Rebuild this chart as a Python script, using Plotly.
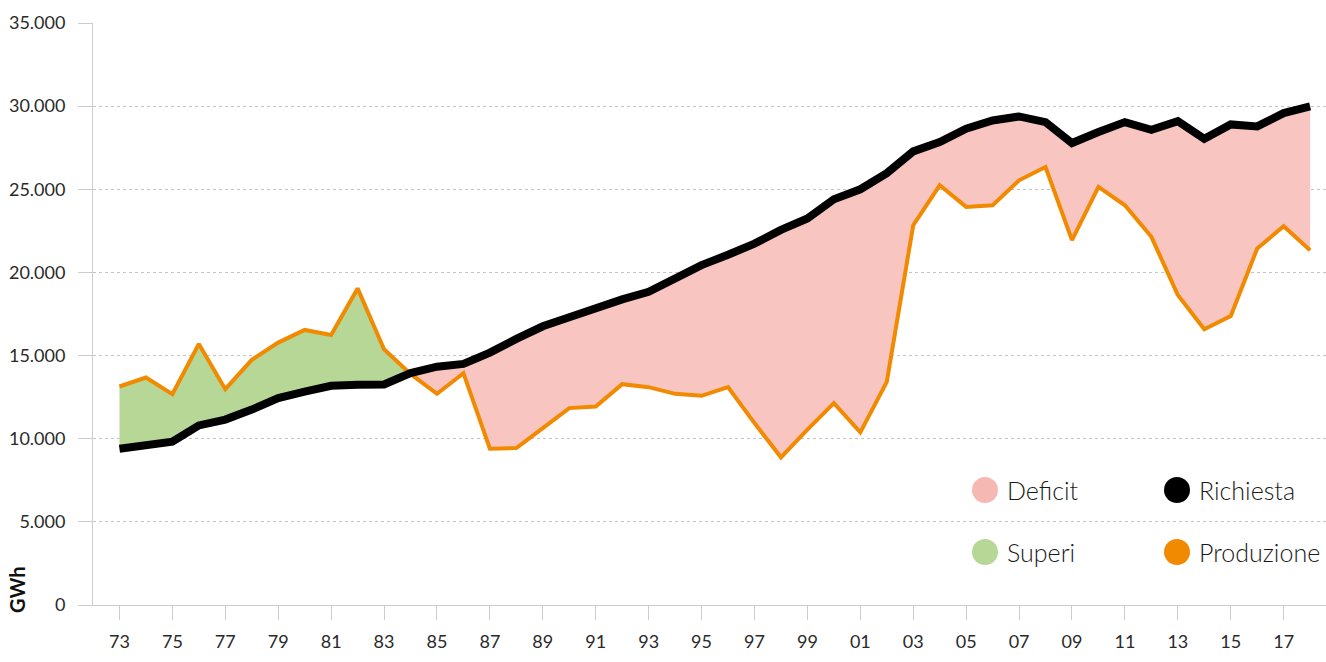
import numpy as np
import plotly.graph_objects as go

years = list(range(1973, 2019))
richiesta = [9400, 9640, 9820, 10800, 11150, 11750, 12440, 12830, 13180, 13240,
             13260, 13950, 14330, 14500, 15180, 16000, 16760, 17300, 17880, 18380,
             18830, 19620, 20440, 21060, 21730, 22560, 23250, 24400, 25000, 25970,
             27280, 27840, 28640, 29140, 29380, 29040, 27780, 28440, 29040, 28580,
             29100, 28040, 28900, 28780, 29580, 29980]
produzione = [13140, 13680, 12680, 15700, 12980, 14740, 15780, 16540, 16240, 19040,
              15380, 13900, 12700, 13940, 9400, 9440, 10640, 11840, 11940, 13280,
              13100, 12700, 12580, 13100, 10940, 8880, 10540, 12140, 10380, 13420,
              22840, 25240, 23940, 24040, 25540, 26340, 21940, 25140, 24040, 22140,
              18640, 16580, 17380, 21440, 22780, 21340]
tick_years = list(range(1973, 2018, 2))
tick_labels = [f"{y % 100:02d}" for y in tick_years]
legend_items = [("Deficit", "#F6B8B3"), ("Superi", "#B6D795"),
                ("Richiesta", "#000000"), ("Produzione", "#F18A00")]

# dense x including crossing points
r = np.array(richiesta, float)
p = np.array(produzione, float)
yrs = np.array(years, float)
xs = []
for i in range(len(yrs)):
    xs.append(yrs[i])
    if i < len(yrs) - 1:
        d0 = p[i] - r[i]
        d1 = p[i + 1] - r[i + 1]
        if d0 * d1 < 0:
            t = d0 / (d0 - d1)
            xs.append(yrs[i] + t * (yrs[i + 1] - yrs[i]))
xs = np.array(xs)
rd = np.interp(xs, yrs, r)
pd_ = np.interp(xs, yrs, p)
top = np.maximum(rd, pd_)

PINK = "#F8C5C1"
GREEN = "#B6D795"
ORANGE = "#F18A00"

fig = go.Figure()
fig.add_trace(go.Scatter(x=xs, y=pd_, mode="lines", line=dict(width=0), showlegend=False, hoverinfo="skip"))
fig.add_trace(go.Scatter(x=xs, y=top, mode="lines", line=dict(width=0), fill="tonexty",
                         fillcolor=PINK, showlegend=False, hoverinfo="skip"))
fig.add_trace(go.Scatter(x=xs, y=rd, mode="lines", line=dict(width=0), showlegend=False, hoverinfo="skip"))
fig.add_trace(go.Scatter(x=xs, y=top, mode="lines", line=dict(width=0), fill="tonexty",
                         fillcolor=GREEN, showlegend=False, hoverinfo="skip"))
fig.add_trace(go.Scatter(x=years, y=produzione, mode="lines", name="Produzione",
                         line=dict(color=ORANGE, width=4), showlegend=False))
fig.add_trace(go.Scatter(x=years, y=richiesta, mode="lines", name="Richiesta",
                         line=dict(color="#000000", width=8), showlegend=False))

L, T, W, H = 93, 23, 1233, 582

def px_x(v):
    return (v - L) / W

def px_y(v):
    return (T + H - v) / H

shapes = []
annotations = []
pos = [(985, 490), (985, 552), (1177, 490), (1177, 552)]
for (label, color), (cx, cy) in zip(legend_items, pos):
    shapes.append(dict(type="circle", xref="paper", yref="paper", xsizemode="pixel", ysizemode="pixel",
                       xanchor=px_x(cx), yanchor=px_y(cy), x0=-13, x1=13, y0=-13, y1=13,
                       fillcolor=color, line=dict(width=0)))
    annotations.append(dict(text=label, xref="paper", yref="paper", x=px_x(cx + 20), y=px_y(cy),
                            xanchor="left", yanchor="middle", showarrow=False,
                            font=dict(family="Lato", size=25, color="#1a1a1a", weight=300)))

annotations.append(dict(text="<b>GWh</b>", xref="paper", yref="paper", x=px_x(17), y=px_y(590),
                        xanchor="center", yanchor="middle", showarrow=False, textangle=-90,
                        font=dict(family="Lato", size=20, color="#111")))

fig.update_layout(
    width=1326, height=662,
    margin=dict(l=L, r=0, t=T, b=662 - T - H),
    plot_bgcolor="white", paper_bgcolor="white",
    separators=",.",
    shapes=shapes, annotations=annotations,
    font=dict(family="Lato", size=18, color="#333", weight=300),
    showlegend=False,
)
fig.update_xaxes(range=[1972.0, 2018.6], tickvals=tick_years, ticktext=tick_labels,
                 showgrid=False, zeroline=False, showline=True, linecolor="#cccccc", linewidth=1,
                 ticks="outside", ticklen=14, tickcolor="#cccccc", tickwidth=1,
                 ticklabelstandoff=6, tickfont=dict(size=18, color="#2a2a2a", weight=400))
fig.update_yaxes(range=[0, 35000], dtick=5000, tickformat=",.0f",
                 showgrid=True, gridcolor="#c4c4c4", griddash="dot", gridwidth=1,
                 zeroline=False, showline=True, linecolor="#cccccc", linewidth=1,
                 ticks="outside", ticklen=14, tickcolor="#cccccc", tickwidth=1,
                 ticklabelstandoff=9, tickfont=dict(size=18, color="#2a2a2a", weight=400))

fig.write_html("out.html", config={"displayModeBar": False},
               post_script="document.body.style.margin='0';document.body.style.overflow='hidden';")
